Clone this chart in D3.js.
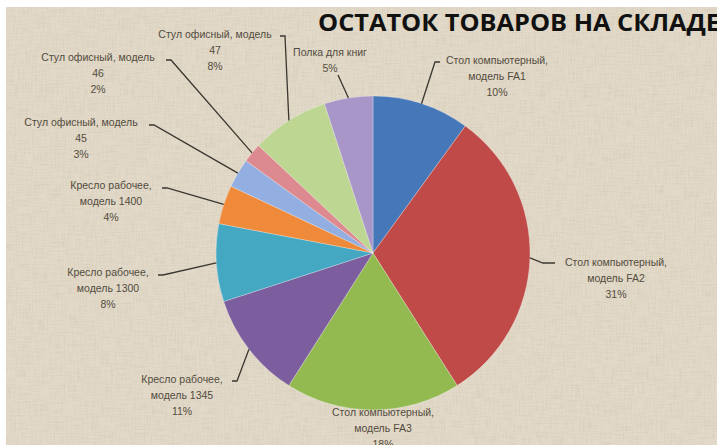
<!DOCTYPE html>
<html>
<head>
<meta charset="utf-8">
<script src="https://cdn.jsdelivr.net/npm/d3@7"></script>
<style>
  body { margin: 0; background: #fff; }
  svg { display: block; }
</style>
</head>
<body>
<script>
    // data
    const title = "ОСТАТОК ТОВАРОВ НА СКЛАДЕ";
    const categories = [
      "Стол компьютерный,\nмодель FA1",
      "Стол компьютерный,\nмодель FA2",
      "Стол компьютерный,\nмодель FA3",
      "Кресло рабочее,\nмодель 1345",
      "Кресло рабочее,\nмодель 1300",
      "Кресло рабочее,\nмодель 1400",
      "Стул офисный, модель\n45",
      "Стул офисный, модель\n46",
      "Стул офисный, модель\n47",
      "Полка для книг"
    ];
    const shares = [10, 31, 18, 11, 8, 4, 3, 2, 8, 5];

    const colors = ["#4677b8", "#bf4a47", "#92ba50", "#7c5e9f", "#45a8c3", "#ee8a3a",
                    "#93aee0", "#dc8a90", "#bdd691", "#a996c9"];

    // label layout: centre x, first line y, leader start x/y, hook length
    const labelLayout = [
      [497, 60, 440, 62, -5],
      [616, 262, 555, 263, -12],
      [383, 412, null, null, 0],
      [182, 379, 232, 381, 5],
      [108, 272, 158, 275, 5],
      [111, 185, 162, 188, 5],
      [81, 122, 149, 125, 5],
      [98, 57, 166, 60, 5],
      [215, 34, 280, 36, 5],
      [330, 52, 338, 75, 0]
    ];

    const W = 717, H = 445;
    const cx = 373, cy = 253, r = 157;

    const svg = d3.select("body").append("svg")
      .attr("width", W)
      .attr("height", H)

    const defs = svg.append("defs")
    const f = defs.append("filter").attr("id", "linen")
      .attr("x", 0).attr("y", 0).attr("width", 1).attr("height", 1)
    f.append("feTurbulence").attr("type", "fractalNoise")
      .attr("baseFrequency", "0.9 0.06").attr("numOctaves", 2).attr("seed", 4).attr("result", "a")
    f.append("feTurbulence").attr("type", "fractalNoise")
      .attr("baseFrequency", "0.06 0.9").attr("numOctaves", 2).attr("seed", 9).attr("result", "b")
    f.append("feComposite").attr("in", "a").attr("in2", "b").attr("operator", "arithmetic")
      .attr("k2", 0.5).attr("k3", 0.5).attr("result", "c")
    f.append("feColorMatrix").attr("in", "c").attr("type", "matrix")
      .attr("values", "0 0 0 0 0.45  0 0 0 0 0.38  0 0 0 0 0.28  -2.2 0 0 0 1.25")

    // linen background
    svg.append("rect").attr("x", 6).attr("y", 7).attr("width", W - 6).attr("height", H - 7)
      .attr("fill", "#e2d9c8")
    svg.append("rect").attr("x", 6).attr("y", 7).attr("width", W - 6).attr("height", H - 7)
      .attr("filter", "url(#linen)").attr("opacity", 0.3)

    svg.append("text")
      .attr("x", 318).attr("y", 31)
      .attr("font-family", "'Open Sans', sans-serif")
      .attr("font-weight", 700)
      .attr("font-size", 23.5)
      .attr("fill", "#111")
      .attr("textLength", 402)
      .attr("lengthAdjust", "spacingAndGlyphs")
      .text(title)

    const pie = d3.pie().sort(null).value(d => d)
    const arcs = pie(shares)
    const arc = d3.arc().innerRadius(0).outerRadius(r)
    const rim = d3.arc().innerRadius(r).outerRadius(r)

    const g = svg.append("g").attr("transform", `translate(${cx},${cy})`)

    g.selectAll("path.slice")
      .data(arcs)
      .enter()
      .append("path")
      .attr("class", "slice")
      .attr("d", arc)
      .attr("fill", (d, i) => colors[i])
      .attr("stroke", "rgba(255,255,255,0.35)")
      .attr("stroke-width", 0.8)

    // leader lines
    const line = d3.line()
    svg.selectAll("path.leader")
      .data(arcs.filter((d, i) => labelLayout[i][2] !== null))
      .enter()
      .append("path")
      .attr("class", "leader")
      .attr("fill", "none")
      .attr("stroke", "#3b3730")
      .attr("stroke-width", 1.3)
      .attr("d", d => {
        const L = labelLayout[d.index]
        const p = rim.centroid(d)
        return line([[L[2], L[3]], [L[2] + L[4], L[3]], [cx + p[0], cy + p[1]]])
      })

    // labels
    const lab = svg.selectAll("text.lab")
      .data(arcs)
      .enter()
      .append("text")
      .attr("class", "lab")
      .attr("font-family", "'Liberation Sans', Arial, sans-serif")
      .attr("font-size", 10.5)
      .attr("fill", "#524c40")
      .attr("text-anchor", "middle")

    lab.each(function(d, i) {
      const L = labelLayout[i]
      const rows = categories[i].split("\n").concat([shares[i] + "%"])
      d3.select(this).selectAll("tspan")
        .data(rows)
        .enter()
        .append("tspan")
        .attr("x", L[0])
        .attr("y", (t, k) => L[1] + k * 16)
        .attr("dy", "0.35em")
        .text(t => t)
    })
</script>
</body>
</html>
